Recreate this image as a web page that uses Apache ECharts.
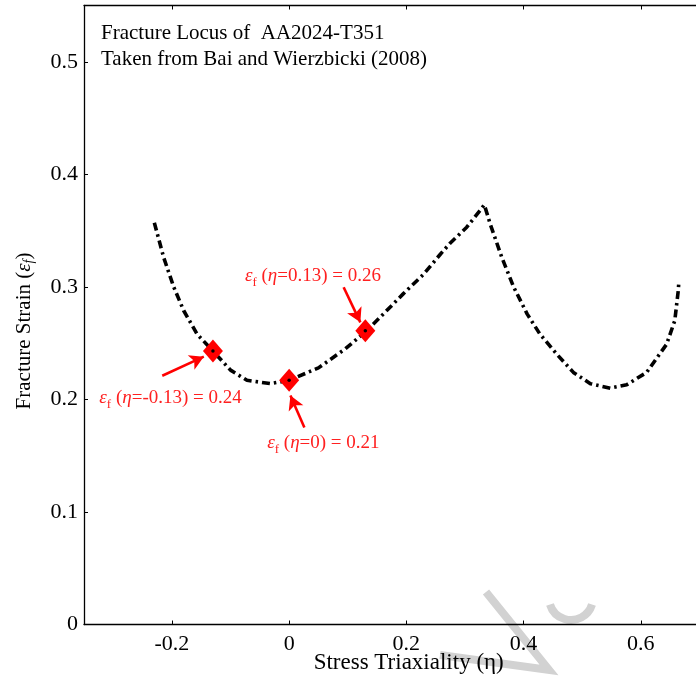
<!DOCTYPE html>
<html><head><meta charset="utf-8">
<script src="https://cdn.jsdelivr.net/npm/echarts@6/dist/echarts.min.js"></script>
<style>html,body{margin:0;padding:0;background:#fff;overflow:hidden}#c{width:696px;height:679px}</style>
</head><body><div id="c"></div>
<script>
// Fracture locus (stress triaxiality eta, fracture strain)
const etaLocus = [-0.230,-0.214,-0.197,-0.180,-0.157,-0.130,-0.100,-0.072,-0.032,0.000,0.050,0.096,0.130,0.161,0.195,0.229,0.258,0.275,0.303,0.326,0.333,0.343,0.363,0.383,0.406,0.428,0.457,0.485,0.514,0.548,0.576,0.610,0.644,0.658,0.664,0.665];
const strainLocus = [0.357,0.326,0.300,0.279,0.258,0.243,0.226,0.217,0.214,0.217,0.228,0.245,0.260,0.276,0.294,0.311,0.329,0.339,0.353,0.368,0.373,0.356,0.326,0.300,0.276,0.258,0.240,0.224,0.214,0.210,0.213,0.224,0.249,0.270,0.297,0.305];
// Highlighted points
const markEta = [-0.13, 0, 0.13];
const markStrain = [0.243, 0.217, 0.261];
// Annotation texts
const annEta = ['-0.13', '0', '0.13'];
const annVal = ['0.24', '0.21', '0.26'];
const annLabelPos = [[-0.2023, 0.2034], [0.0585, 0.1634], [0.0406, 0.3117]];
const arrowTail = [[-0.2165, 0.221], [0.026, 0.175], [0.093, 0.2996]];
const arrowHead = [[-0.1456, 0.238], [0.0022, 0.2034], [0.1215, 0.2685]];
// Ticks
const xTicks = [-0.2, 0, 0.2, 0.4, 0.6];
const yTicks = [0, 0.1, 0.2, 0.3, 0.4, 0.5];
const titleLines = ['Fracture Locus of  AA2024-T351', 'Taken from Bai and Wierzbicki (2008)'];
const xName = 'Stress Triaxiality (η)';

const FONT = "'Liberation Serif','Times New Roman',serif";
const chart = echarts.init(document.getElementById('c'), null, {renderer: 'canvas'});

const axisCommon = {
  type: 'value',
  splitLine: {show: false},
  axisLine: {show: true, onZero: false, lineStyle: {color: '#000', width: 1.3}},
};
const xMin = -0.35, xMax = 0.7, yMin = 0, yMax = 0.55;
const fmt = v => String(Math.round(v * 10) / 10);

const locusData = etaLocus.map((e, i) => [e, strainLocus[i]]);
const markData = markEta.map((e, i) => [e, markStrain[i]]);

const option = {
  animation: false,
  grid: {left: 84, top: 5.5, width: 615.4, height: 619, show: false, outerBoundsMode: 'none', containLabel: false},
  xAxis: [
    Object.assign({}, axisCommon, {
      min: xMin, max: xMax, position: 'bottom',
      axisTick: {show: true, inside: true, length: 4, customValues: xTicks, lineStyle: {color: '#000', width: 1}},
      axisLabel: {customValues: xTicks, formatter: fmt, fontSize: 22, fontFamily: FONT, color: '#000', margin: 9},
      name: xName, nameLocation: 'middle', nameGap: 27, nameMoveOverlap: false,
      nameTextStyle: {fontSize: 23, fontFamily: FONT, color: '#000', padding: [0, 0, 0, 34]}
    }),
    Object.assign({}, axisCommon, {
      min: xMin, max: xMax, position: 'top',
      axisTick: {show: true, inside: true, length: 4, customValues: xTicks, lineStyle: {color: '#000', width: 1}},
      axisLabel: {show: false}
    })
  ],
  yAxis: [
    Object.assign({}, axisCommon, {
      min: yMin, max: yMax, position: 'left',
      axisTick: {show: true, inside: true, length: 4, customValues: yTicks, lineStyle: {color: '#000', width: 1}},
      axisLabel: {customValues: yTicks, formatter: fmt, fontSize: 22, fontFamily: FONT, color: '#000', margin: 6},
      name: '{n|Fracture Strain (}{e|ε}{s|f}{n|)}', nameLocation: 'middle', nameGap: 48, nameMoveOverlap: false,
      nameTextStyle: {
        padding: [0, 32, 0, 0],
        rich: {
          n: {fontSize: 21, fontFamily: FONT, color: '#000', lineHeight: 24},
          e: {fontSize: 21, fontFamily: FONT, fontStyle: 'italic', color: '#000', lineHeight: 24},
          s: {fontSize: 14, fontFamily: FONT, fontStyle: 'italic', color: '#000', lineHeight: 14, verticalAlign: 'bottom'}
        }
      }
    }),
    Object.assign({}, axisCommon, {
      min: yMin, max: yMax, position: 'right',
      axisTick: {show: false},
      axisLabel: {show: false}
    })
  ],
  series: [
    {
      type: 'line', data: locusData, showSymbol: false, symbol: 'none', silent: true,
      lineStyle: {color: '#000', width: 3.6, type: [8, 4, 2.5, 4], cap: 'butt'}
    },
    {
      type: 'scatter', data: markData, symbol: 'diamond', symbolSize: [20, 23],
      itemStyle: {color: '#ff0000', opacity: 1}, z: 3,
      markLine: {
        silent: true, symbol: ['none', 'arrow'], symbolSize: [12, 14],
        label: {show: false},
        lineStyle: {color: '#ff0000', width: 2.6, type: 'solid', opacity: 1},
        data: arrowTail.map((t, i) => [{coord: t}, {coord: arrowHead[i]}])
      }
    },
    {
      type: 'scatter', data: markData, symbol: 'circle', symbolSize: 3.5,
      itemStyle: {color: '#000', opacity: 1}, z: 4
    }
  ]
};
chart.setOption(option);

const graphics = [];
// faint watermark fragments near the bottom edge
graphics.push({type: 'polyline', z: -10, silent: true,
  shape: {points: [[486, 592], [549, 670], [440, 655]]},
  style: {stroke: '#d2d2d2', lineWidth: 8, fill: null, lineJoin: 'miter'}});
graphics.push({type: 'arc', z: -10, silent: true,
  shape: {cx: 571, cy: 598, r: 22, startAngle: 0.3, endAngle: Math.PI - 0.3, clockwise: true},
  style: {stroke: '#d2d2d2', lineWidth: 8, fill: null}});
titleLines.forEach((t, i) => {
  graphics.push({type: 'text', left: 101, top: 23 + i * 26,
    style: {text: t, fontSize: 21, fontFamily: FONT, fill: '#000'}});
});
annLabelPos.forEach((p, i) => {
  const px = chart.convertToPixel({gridIndex: 0}, p);
  graphics.push({
    type: 'text', x: px[0], y: px[1] + 2,
    style: {
      text: '{e|ε}{s|f}{n| (}{e|η}{n|=' + annEta[i] + ') = ' + annVal[i] + '}',
      align: 'center', verticalAlign: 'middle',
      rich: {
        n: {fontSize: 19, fontFamily: FONT, fill: '#ff2020', lineHeight: 26},
        e: {fontSize: 19, fontFamily: FONT, fontStyle: 'italic', fill: '#ff2020', lineHeight: 26},
        s: {fontSize: 13, fontFamily: FONT, fill: '#ff2020', lineHeight: 13, verticalAlign: 'bottom'}
      }
    }
  });
});
chart.setOption({graphic: graphics});
</script>
</body></html>
